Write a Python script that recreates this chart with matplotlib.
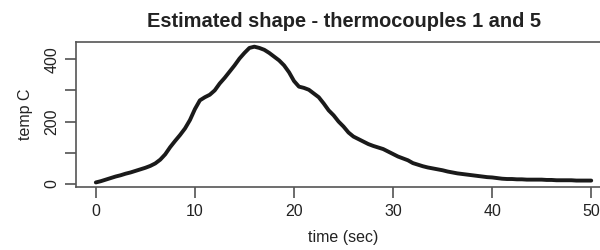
import numpy as np
import matplotlib
matplotlib.use("Agg")
import matplotlib.pyplot as plt

plt.rcParams['font.family'] = ['Liberation Sans', 'DejaVu Sans']

# estimated shape (0.5 s steps)
time_sec = np.arange(0, 50.5, 0.5)
temp_c = [5, 9, 14, 19, 24, 28, 33, 37, 42, 47,
          52, 58, 66, 78, 95, 118, 138, 157, 178, 205,
          240, 268, 278, 286, 300, 322, 340, 360, 380, 402,
          420, 436, 440, 436, 430, 420, 408, 396, 380, 358,
          330, 312, 308, 302, 290, 278, 258, 236, 220, 200,
          184, 165, 152, 144, 136, 128, 122, 117, 112, 104,
          96, 88, 82, 76, 67, 62, 57, 53, 50, 47,
          44, 40, 37, 34, 32, 30, 28, 26, 24, 22,
          21, 19, 17, 16, 16, 15, 15, 14, 14, 14,
          14, 13, 13, 12, 12, 12, 12, 11, 11, 11, 11]
x_ticks = [0, 10, 20, 30, 40, 50]
y_ticks = [0, 100, 200, 300, 400]
y_ticklabels = ["0", "", "200", "", "400"]

fig = plt.figure(figsize=(6, 2.5), dpi=100)
ax = fig.add_axes([0.1267, 0.252, 0.8917, 0.58])

ax.plot(time_sec, temp_c, color="#1a1a1a", linewidth=2.8, solid_capstyle="round")

ax.set_xlim(-2, 52)
ax.set_ylim(-9.6, 455)
ax.set_xticks(x_ticks)
ax.set_yticks(y_ticks)
ax.set_yticklabels(y_ticklabels, rotation=90, va="center")

for s in ax.spines.values():
    s.set_color("#555555")
    s.set_linewidth(1.2)
ax.tick_params(direction="out", length=8, width=1.1, color="#444444",
               labelsize=11.5, labelcolor="#222222", pad=4)

ax.set_xlabel("time (sec)", fontsize=11.5, color="#222222", labelpad=8)
ax.set_ylabel("temp C", fontsize=11.5, color="#222222", labelpad=8)
ax.set_title("Estimated shape - thermocouples 1 and 5", fontsize=14.4,
             fontweight="bold", color="#222222", pad=11)

fig.savefig("out.png", dpi=100)
